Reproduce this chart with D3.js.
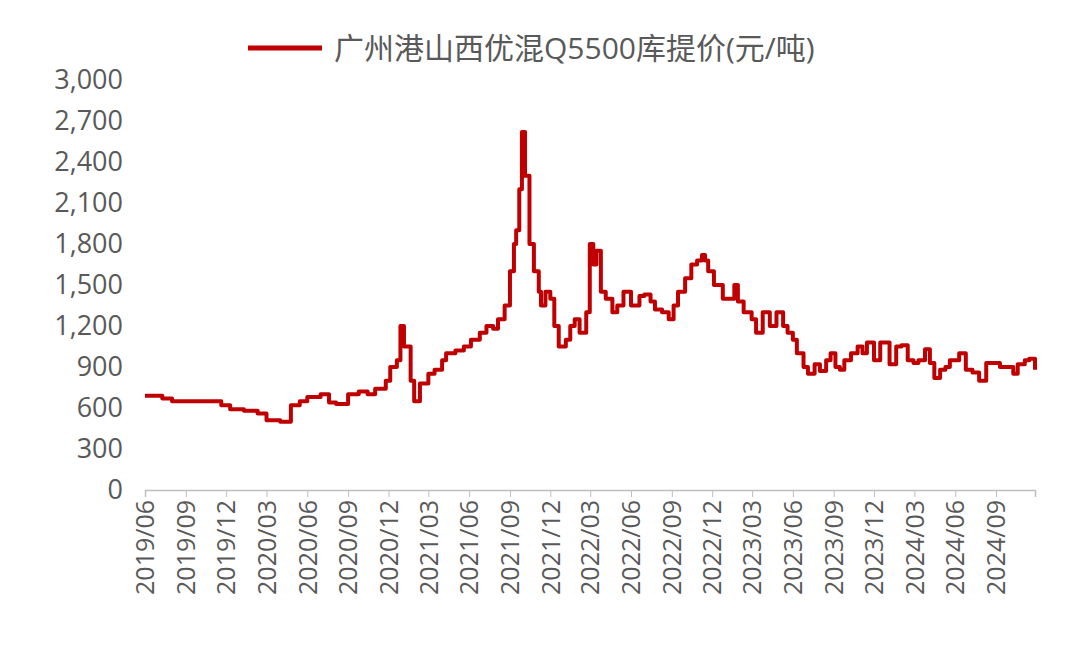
<!DOCTYPE html><html><head><meta charset="utf-8">
<script src="https://cdn.jsdelivr.net/npm/d3@7"></script>
<style>body{margin:0;background:#fff}</style></head><body>
<svg id="c" width="1080" height="650"></svg>
<script>
const seriesName="广州港山西优混Q5500库提价(元/吨)";
const dates=["2019-06-01","2019-07-10","2019-08-01","2019-10-25","2019-11-20","2019-12-10","2020-01-10","2020-02-10","2020-03-01","2020-04-01","2020-04-25","2020-05-15","2020-06-01","2020-07-01","2020-07-20","2020-08-05","2020-09-01","2020-09-25","2020-10-15","2020-11-01","2020-11-25","2020-12-05","2020-12-20","2020-12-28","2021-01-05","2021-01-20","2021-01-28","2021-02-10","2021-03-01","2021-03-15","2021-04-01","2021-04-10","2021-05-01","2021-05-20","2021-06-05","2021-06-25","2021-07-10","2021-07-25","2021-08-05","2021-08-20","2021-09-01","2021-09-10","2021-09-15","2021-09-22","2021-09-28","2021-10-05","2021-10-15","2021-10-25","2021-11-05","2021-11-10","2021-11-20","2021-12-01","2021-12-10","2021-12-20","2022-01-05","2022-01-15","2022-01-25","2022-02-05","2022-02-20","2022-02-28","2022-03-08","2022-03-15","2022-03-25","2022-04-05","2022-04-20","2022-05-01","2022-05-15","2022-06-01","2022-06-20","2022-07-01","2022-07-15","2022-07-25","2022-08-10","2022-08-25","2022-09-05","2022-09-15","2022-10-01","2022-10-15","2022-10-28","2022-11-08","2022-11-15","2022-11-22","2022-12-05","2022-12-25","2023-01-20","2023-01-28","2023-02-10","2023-02-20","2023-02-28","2023-03-10","2023-03-25","2023-04-10","2023-04-25","2023-05-10","2023-05-20","2023-06-01","2023-06-10","2023-06-25","2023-07-05","2023-07-20","2023-08-01","2023-08-15","2023-08-25","2023-09-05","2023-09-15","2023-09-25","2023-10-10","2023-10-25","2023-11-05","2023-11-15","2023-12-01","2023-12-15","2024-01-05","2024-01-20","2024-02-01","2024-02-15","2024-02-28","2024-03-10","2024-03-25","2024-04-05","2024-04-15","2024-04-28","2024-05-10","2024-05-20","2024-06-10","2024-06-25","2024-07-10","2024-07-25","2024-08-10","2024-09-10","2024-10-10","2024-10-20","2024-11-05","2024-11-15","2024-11-28"];
const prices=[690,670,650,650,620,590,580,560,510,500,620,650,680,700,640,630,700,720,700,740,800,900,950,1200,1050,800,650,780,850,880,950,1000,1020,1050,1100,1150,1200,1180,1250,1350,1600,1800,1900,2200,2620,2300,1800,1600,1450,1350,1450,1400,1200,1050,1100,1200,1250,1150,1300,1800,1650,1750,1450,1400,1300,1350,1450,1350,1420,1430,1380,1320,1300,1250,1350,1450,1550,1650,1680,1720,1680,1600,1500,1400,1500,1380,1300,1300,1250,1150,1300,1200,1300,1200,1150,1100,1000,900,850,920,870,950,1000,900,880,950,1000,1050,1000,1080,950,1080,920,1050,1060,950,930,950,1030,930,820,880,900,950,1000,880,860,800,930,900,850,920,950,960,880,950,940,850];
const yTicks=[0,300,600,900,1200,1500,1800,2100,2400,2700,3000];
const xTickLabels=["2019/06","2019/09","2019/12","2020/03","2020/06","2020/09","2020/12","2021/03","2021/06","2021/09","2021/12","2022/03","2022/06","2022/09","2022/12","2023/03","2023/06","2023/09","2023/12","2024/03","2024/06","2024/09"];
const parse=d3.timeParse("%Y-%m-%d"), pm=d3.timeParse("%Y/%m");
const data=dates.map((d,i)=>({d:parse(d),v:prices[i]}));
const svg=d3.select("#c");
const font="'Open Sans','Noto Sans CJK SC',sans-serif", col="#595959", red="#c00000";
const x=d3.scaleTime().domain([pm("2019/06"),parse("2024-11-28")]).range([145,1035]);
const y=d3.scaleLinear().domain([0,3000]).range([490,80]);
const ya=svg.append("g").attr("transform","translate(145,0)").call(d3.axisLeft(y).tickValues(yTicks).tickSize(0).tickPadding(22).tickFormat(d3.format(",")));
ya.select(".domain").remove();
ya.selectAll("text").attr("font-size",27).attr("fill",col).attr("font-family",font);
const xa=svg.append("g").attr("transform","translate(0,490)").call(d3.axisBottom(x).tickValues(xTickLabels.map(pm)).tickSize(7).tickFormat(d3.timeFormat("%Y/%m")));
xa.select(".domain").attr("stroke","#bfbfbf").attr("stroke-width",1.5);
xa.selectAll("line").attr("stroke","#bfbfbf");
xa.selectAll("text").attr("font-size",25).attr("fill",col).attr("font-family",font)
 .attr("transform","rotate(-90)").attr("text-anchor","end").attr("dy","0.35em").attr("x",-10).attr("y",0);
svg.append("path").datum(data).attr("fill","none").attr("stroke",red).attr("stroke-width",4).attr("stroke-linejoin","round")
 .attr("d",d3.line().x(d=>x(d.d)).y(d=>y(d.v)).curve(d3.curveStepAfter));
svg.append("line").attr("x1",248).attr("x2",322).attr("y1",48).attr("y2",48).attr("stroke",red).attr("stroke-width",5);
svg.append("text").attr("x",334).attr("y",59).text(seriesName).attr("font-size",30).attr("fill",col).attr("font-family",font);
</script></body></html>
